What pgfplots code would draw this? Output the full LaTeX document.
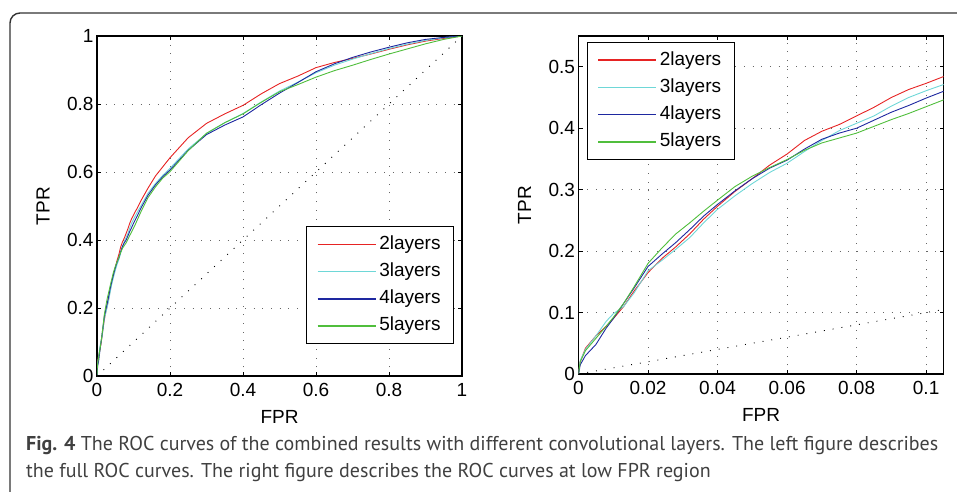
\documentclass[border=0pt]{standalone}
\usepackage{fontspec}
\setmainfont{Liberation Sans}
\newfontfamily\capfont{PT Sans}
\usepackage{pgfplots}
\pgfplotsset{compat=1.18}
\usepackage{pgfplotstable}

\definecolor{cRed}{RGB}{230,35,35}
\definecolor{cCyan}{RGB}{110,215,215}
\definecolor{cBlue}{RGB}{30,40,160}
\definecolor{cGreen}{RGB}{80,190,60}

% ROC points (FPR, TPR)
\pgfplotstableread{
fpr tpr
0 0
0.0005 0.020
0.002 0.042
0.005 0.062
0.008 0.078
0.010 0.090
0.013 0.110
0.016 0.135
0.020 0.165
0.024 0.188
0.028 0.207
0.032 0.228
0.036 0.252
0.040 0.273
0.045 0.297
0.050 0.318
0.055 0.340
0.060 0.358
0.065 0.380
0.070 0.395
0.075 0.406
0.080 0.420
0.085 0.434
0.090 0.450
0.095 0.463
0.100 0.473
0.105 0.484
0.110 0.493
0.120 0.515
0.140 0.553
0.160 0.588
0.180 0.615
0.200 0.642
0.250 0.701
0.300 0.743
0.350 0.771
0.400 0.796
0.450 0.830
0.500 0.860
0.550 0.882
0.600 0.907
0.650 0.922
0.700 0.934
0.750 0.947
0.800 0.961
0.850 0.974
0.900 0.985
0.950 0.993
1 1
}\layertwo

\pgfplotstableread{
fpr tpr
0 0
0.0005 0.022
0.002 0.040
0.005 0.062
0.008 0.086
0.010 0.098
0.013 0.110
0.016 0.132
0.020 0.168
0.024 0.185
0.028 0.203
0.032 0.222
0.036 0.246
0.040 0.268
0.045 0.290
0.050 0.310
0.055 0.328
0.060 0.343
0.065 0.362
0.070 0.380
0.075 0.396
0.080 0.408
0.085 0.420
0.090 0.436
0.095 0.450
0.100 0.461
0.105 0.471
0.110 0.481
0.120 0.500
0.140 0.538
0.160 0.566
0.180 0.590
0.200 0.611
0.250 0.668
0.300 0.713
0.350 0.745
0.400 0.772
0.450 0.806
0.500 0.838
0.550 0.864
0.600 0.892
0.650 0.914
0.700 0.932
0.750 0.948
0.800 0.963
0.850 0.976
0.900 0.987
0.950 0.995
1 1
}\layerthree

\pgfplotstableread{
fpr tpr
0 0
0.0005 0.015
0.002 0.030
0.005 0.048
0.008 0.075
0.010 0.090
0.013 0.115
0.016 0.140
0.020 0.175
0.024 0.195
0.028 0.214
0.032 0.235
0.036 0.257
0.040 0.276
0.045 0.298
0.050 0.318
0.055 0.335
0.060 0.348
0.065 0.366
0.070 0.382
0.075 0.392
0.080 0.400
0.085 0.413
0.090 0.426
0.095 0.437
0.100 0.449
0.105 0.460
0.110 0.470
0.120 0.493
0.140 0.532
0.160 0.562
0.180 0.586
0.200 0.606
0.250 0.664
0.300 0.710
0.350 0.738
0.400 0.762
0.450 0.798
0.500 0.832
0.550 0.863
0.600 0.895
0.650 0.918
0.700 0.937
0.750 0.953
0.800 0.967
0.850 0.980
0.900 0.990
0.950 0.996
1 1
}\layerfour

\pgfplotstableread{
fpr tpr
0 0
0.0005 0.020
0.002 0.038
0.005 0.058
0.008 0.078
0.010 0.092
0.013 0.115
0.016 0.142
0.020 0.180
0.024 0.205
0.028 0.228
0.032 0.246
0.036 0.265
0.040 0.283
0.045 0.305
0.050 0.322
0.055 0.336
0.060 0.349
0.065 0.364
0.070 0.376
0.075 0.384
0.080 0.392
0.085 0.403
0.090 0.414
0.095 0.424
0.100 0.435
0.105 0.446
0.110 0.458
0.120 0.482
0.140 0.525
0.160 0.556
0.180 0.582
0.200 0.601
0.250 0.663
0.300 0.714
0.350 0.745
0.400 0.771
0.450 0.805
0.500 0.836
0.550 0.857
0.600 0.879
0.650 0.898
0.700 0.914
0.750 0.931
0.800 0.947
0.850 0.962
0.900 0.977
0.950 0.990
1 1
}\layerfive

\pgfplotsset{
  legend image code/.code={\draw[#1, line width=1.6pt] (0pt,0pt) -- (58pt,0pt);},
  rocaxis/.style={
    scale only axis, width=365pt,
    anchor=south west,
    font=\fontsize{19}{22}\selectfont,
    axis line style={line width=1.2pt},
    tick style={black, line width=0.8pt},
    major tick length=4pt,
    grid=major,
    major grid style={black!60, line width=0.8pt, dash pattern=on 0.9pt off 7.8pt},
    xticklabel style={yshift=-4pt},
    xlabel=FPR, ylabel=TPR,
    xlabel style={at={(axis description cs:0.5,-0.14)}, anchor=base},
    ylabel style={at={(axis description cs:-0.148,0.5)}, anchor=center},
    legend cell align=left,
    legend style={draw=black, line width=0.8pt, fill=white, inner xsep=10pt, inner ysep=8.5pt,
      font=\fontsize{19}{22}\selectfont,
      nodes={inner xsep=3pt, inner ysep=0pt, text height=14pt, text depth=4.5pt},
      row sep=8.7pt},
  },
  roc/.style={line width=0.9pt, no markers},
}

\begin{document}
\begin{tikzpicture}
\useasboundingbox (0,0) rectangle (957pt,-491pt);
\clip (0,0) rectangle (957pt,-491pt);
\draw[line width=1.4pt, black!80, rounded corners=10pt] (10pt,-530pt) -- (10pt,-13pt) -- (1000pt,-13pt);

\begin{axis}[rocaxis, at={(97pt,-376pt)}, height=340pt,
  xmin=0, xmax=1, ymin=0, ymax=1,
  xtick={0,0.2,0.4,0.6,0.8,1}, xticklabels={0,0.2,0.4,0.6,0.8,1},
  ytick={0,0.2,0.4,0.6,0.8,1}, yticklabels={0,0.2,0.4,0.6,0.8,1},
  legend style={at={(0.978,0.094)}, anchor=south east}]
\addplot[roc, cRed] table[x=fpr, y=tpr] {\layertwo};
\addlegendentry{2layers}
\addplot[roc, cCyan] table[x=fpr, y=tpr] {\layerthree};
\addlegendentry{3layers}
\addplot[roc, cBlue] table[x=fpr, y=tpr] {\layerfour};
\addlegendentry{4layers}
\addplot[roc, cGreen] table[x=fpr, y=tpr] {\layerfive};
\addlegendentry{5layers}
\addplot[black, line width=0.9pt, dash pattern=on 0.9pt off 8pt, forget plot] coordinates {(0,0) (1,1)};
\end{axis}

\begin{axis}[rocaxis, at={(578.5pt,-374pt)}, height=338pt,
  xmin=0, xmax=0.105, ymin=0, ymax=0.55,
  xtick={0,0.02,0.04,0.06,0.08,0.1}, xticklabels={0,0.02,0.04,0.06,0.08,0.1},
  ytick={0,0.1,0.2,0.3,0.4,0.5}, yticklabels={0,0.1,0.2,0.3,0.4,0.5},
  legend style={at={(0.023,0.982)}, anchor=north west}]
\addplot[roc, cRed] table[x=fpr, y=tpr] {\layertwo};
\addlegendentry{2layers}
\addplot[roc, cCyan] table[x=fpr, y=tpr] {\layerthree};
\addlegendentry{3layers}
\addplot[roc, cBlue] table[x=fpr, y=tpr] {\layerfour};
\addlegendentry{4layers}
\addplot[roc, cGreen] table[x=fpr, y=tpr] {\layerfive};
\addlegendentry{5layers}
\addplot[black, line width=0.9pt, dash pattern=on 0.9pt off 8pt, forget plot] coordinates {(0,0) (0.2,0.2)};
\end{axis}

\node[anchor=base west, inner sep=0pt, text=black!75, font=\capfont\fontsize{20}{24}\selectfont]
  at (26pt,-450pt) {\textbf{Fig. 4} The ROC curves of the combined results with different convolutional layers. The left figure describes};
\node[anchor=base west, inner sep=0pt, text=black!75, font=\capfont\fontsize{20}{24}\selectfont]
  at (26pt,-477pt) {the full ROC curves. The right figure describes the ROC curves at low FPR region};
\end{tikzpicture}
\end{document}
